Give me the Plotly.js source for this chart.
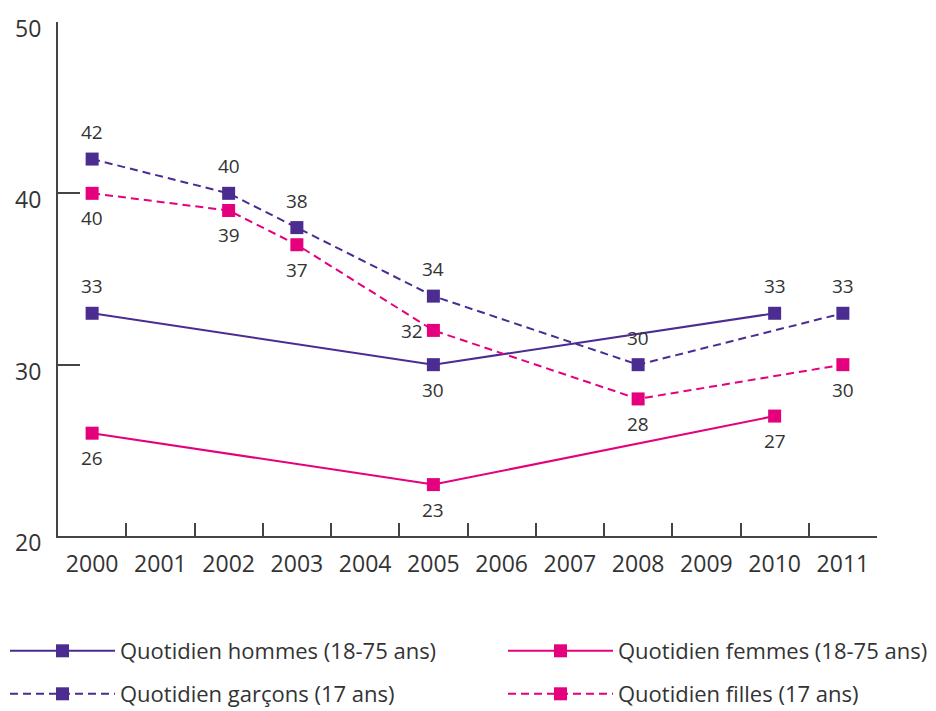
<!DOCTYPE html>
<html>
<head>
<meta charset="utf-8">
<script src="https://cdn.plot.ly/plotly-3.0.1.min.js"></script>
<style>html,body{margin:0;padding:0;background:#fff}#chart{width:936px;height:711px}</style>
</head>
<body>
<div id="chart"></div>
<script>
var years = ['2000','2001','2002','2003','2004','2005','2006','2007','2008','2009','2010','2011'];

var hommesYears = ['2000','2005','2010'];
var hommesValues = [33, 30, 33];
var hommesLabelPos = ['top','bottom','top'];

var femmesYears = ['2000','2005','2010'];
var femmesValues = [26, 23, 27];
var femmesLabelPos = ['bottom','bottom','bottom'];

var garconsYears = ['2000','2002','2003','2005','2008','2011'];
var garconsValues = [42, 40, 38, 34, 30, 33];
var garconsLabelPos = ['top','top','top','top','top','top'];

var fillesYears = ['2000','2002','2003','2005','2008','2011'];
var fillesValues = [40, 39, 37, 32, 28, 30];
var fillesLabelPos = ['bottom','bottom','bottom','left','bottom','bottom'];

var seriesNames = ['Quotidien hommes (18-75 ans)', 'Quotidien femmes (18-75 ans)', 'Quotidien garçons (17 ans)', 'Quotidien filles (17 ans)'];

var purple = '#4b2c91';
var pink = '#e5007e';
var textColor = '#333333';
var fontFam = '"Open Sans", "Noto Sans", sans-serif';

function trace(x, y, name, color, dash, legendId) {
  return {
    x: x, y: y, name: name, type: 'scatter', mode: 'lines+markers',
    line: {color: color, width: 2, dash: dash},
    marker: {symbol: 'square', size: 13, color: color},
    legend: legendId,
    hoverinfo: 'x+y'
  };
}

var data = [
  trace(hommesYears, hommesValues, seriesNames[0], purple, 'solid', 'legend'),
  trace(femmesYears, femmesValues, seriesNames[1], pink, 'solid', 'legend2'),
  trace(garconsYears, garconsValues, seriesNames[2], purple, '8px,5px', 'legend3'),
  trace(fillesYears, fillesValues, seriesNames[3], pink, '8px,5px', 'legend4')
];

var annotations = [];
function addLabels(xs, ys, pos) {
  for (var i = 0; i < xs.length; i++) {
    var a = {x: years.indexOf(xs[i]), y: ys[i], xref: 'x', yref: 'y', text: String(ys[i]), showarrow: false,
      font: {size: 19, color: textColor, family: fontFam}, xshift: 0, yshift: 0};
    if (pos[i] === 'top') a.yshift = 27;
    else if (pos[i] === 'bottom') a.yshift = -25;
    else if (pos[i] === 'left') { a.xshift = -21; a.yshift = -1; }
    annotations.push(a);
  }
}
addLabels(hommesYears, hommesValues, hommesLabelPos);
addLabels(femmesYears, femmesValues, femmesLabelPos);
addLabels(garconsYears, garconsValues, garconsLabelPos);
addLabels(fillesYears, fillesValues, fillesLabelPos);

function legendDef(x, y) {
  return {
    orientation: 'v', x: x, xanchor: 'left', y: y, yanchor: 'middle',
    itemwidth: 105,
    font: {size: 22, color: textColor, family: fontFam},
    bgcolor: 'rgba(0,0,0,0)', borderwidth: 0
  };
}

var colLeft = (5 - 58) / 819;
var colRight = (503 - 58) / 819;
var row1 = (536 - 651) / 514;
var row2 = (536 - 694) / 514;

var layout = {
  width: 936, height: 711,
  margin: {l: 58, r: 59, t: 22, b: 175, autoexpand: false},
  paper_bgcolor: '#fff', plot_bgcolor: '#fff',
  font: {family: fontFam, color: textColor},
  showlegend: true,
  legend: legendDef(colLeft, row1),
  legend2: legendDef(colRight, row1),
  legend3: legendDef(colLeft, row2),
  legend4: legendDef(colRight, row2),
  xaxis: {
    type: 'category', categoryorder: 'array', categoryarray: years,
    tickvals: years, ticktext: years,
    range: [-0.5, 11.5], tickson: 'boundaries',
    ticks: 'inside', ticklen: 13, tickwidth: 2, tickcolor: '#444',
    showline: true, linecolor: '#444', linewidth: 2,
    showgrid: false, zeroline: false,
    tickfont: {size: 23, color: textColor, family: fontFam},
    ticklabelstandoff: 6
  },
  yaxis: {
    range: [20, 50], tickvals: [20, 30, 40, 50],
    ticks: 'inside', ticklen: 22, tickwidth: 2, tickcolor: '#444',
    showline: true, linecolor: '#444', linewidth: 2,
    showgrid: false, zeroline: false,
    tickfont: {size: 23, color: textColor, family: fontFam},
    ticklabelstandoff: 10, ticklabelshift: 7
  },
  annotations: annotations
};

Plotly.newPlot('chart', data, layout, {displayModeBar: false, staticPlot: true});
</script>
</body>
</html>
